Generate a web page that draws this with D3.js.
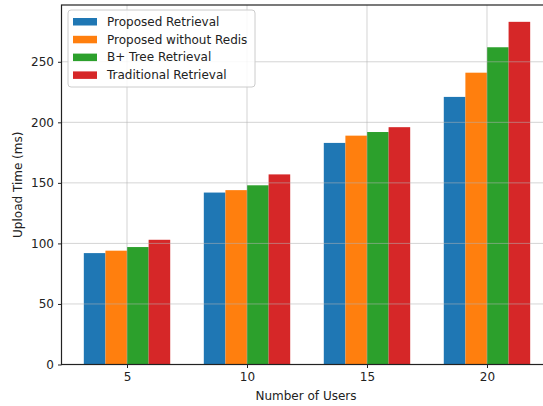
<!DOCTYPE html>
<html><head><meta charset="utf-8">
<script src="https://cdn.jsdelivr.net/npm/d3@7"></script>
<style>body{margin:0;background:#fff;}svg{display:block;font-family:"DejaVu Sans",sans-serif;}</style>
</head><body>
<svg id="c" width="543" height="406"></svg>
<script>
const users = [5, 10, 15, 20];
const seriesNames = ["Proposed Retrieval", "Proposed without Redis", "B+ Tree Retrieval", "Traditional Retrieval"];
const proposed = [92, 142, 183, 221];
const proposedNoRedis = [94, 144, 189, 241];
const bplusTree = [97, 148, 192, 262];
const traditional = [103, 157, 196, 283];
const colors = ["#1f77b4", "#ff7f0e", "#2ca02c", "#d62728"];
const yTicks = [0, 50, 100, 150, 200, 250];
const series = [proposed, proposedNoRedis, bplusTree, traditional];

const svg = d3.select("#c");
const L = 61.5, R = 552.5, T = 5, B = 364.5;
const x = d3.scaleLinear().domain([2.27, 22.73]).range([L, R]);
const y = d3.scaleLinear().domain([0, 296.9]).range([B, T]);
const bw = 0.9;
const FS = "12px";

svg.append("defs").append("clipPath").attr("id","clip").append("rect")
  .attr("x", L).attr("y", T).attr("width", R-L).attr("height", B-T);

// bars
const bars = svg.append("g").attr("clip-path","url(#clip)");
series.forEach((vals, si) => {
  const off = (si - 1.5) * bw;
  bars.selectAll(null).data(vals).enter().append("rect")
    .attr("x", (d,i)=>x(users[i] + off - bw/2))
    .attr("width", x(bw) - x(0))
    .attr("y", d=>y(d))
    .attr("height", d=>y(0)-y(d))
    .attr("fill", colors[si]);
});
// grid (drawn over bars, as in the reference)
const g2 = svg.append("g").attr("clip-path","url(#clip)");
g2.selectAll(null).data(yTicks).enter().append("line")
  .attr("x1", L).attr("x2", R).attr("y1", d=>y(d)).attr("y2", d=>y(d))
  .attr("stroke", "#b0b0b0").attr("stroke-opacity", 0.55).attr("stroke-width", 1);
g2.selectAll(null).data(users).enter().append("line")
  .attr("y1", T).attr("y2", B).attr("x1", d=>x(d)).attr("x2", d=>x(d))
  .attr("stroke", "#b0b0b0").attr("stroke-opacity", 0.55).attr("stroke-width", 1);

// axes
const xAxis = d3.axisBottom(x).tickValues(users).tickSize(3.5).tickPadding(4);
const yAxis = d3.axisLeft(y).tickValues(yTicks).tickSize(3.5).tickPadding(4);
const gx = svg.append("g").attr("transform", `translate(0,${B})`).call(xAxis);
const gy = svg.append("g").attr("transform", `translate(${L},0)`).call(yAxis);
[gx, gy].forEach(a => {
  a.select(".domain").remove();
  a.selectAll("text").attr("font-size", FS).attr("fill", "#222").attr("font-family", "DejaVu Sans");
  a.selectAll("line").attr("stroke", "#222");
});
// spines
svg.append("rect").attr("x", L).attr("y", T).attr("width", R-L).attr("height", B-T)
  .attr("fill", "none").attr("stroke", "#222").attr("stroke-width", 1.2);

// labels
svg.append("text").attr("x", 306).attr("y", 399.5).attr("text-anchor","middle")
  .attr("font-size",FS).attr("fill","#222").text("Number of Users");
svg.append("text").attr("transform", `translate(22,${(T+B)/2}) rotate(-90)`).attr("text-anchor","middle")
  .attr("font-size",FS).attr("fill","#222").text("Upload Time (ms)");

// legend
const lg = svg.append("g");
lg.append("rect").attr("x", 68).attr("y", 10).attr("width", 187).attr("height", 77).attr("rx", 3)
  .attr("fill", "#fff").attr("fill-opacity", 0.85).attr("stroke", "#ccc").attr("stroke-width", 1);
seriesNames.forEach((n, i) => {
  const cy = 21.5 + i * 17.8;
  lg.append("rect").attr("x", 73).attr("y", cy - 3.5).attr("width", 24).attr("height", 7.5).attr("fill", colors[i]);
  lg.append("text").attr("x", 107).attr("y", cy + 4.3).attr("font-size", FS).attr("fill", "#222").text(n);
});
</script>
</body></html>
